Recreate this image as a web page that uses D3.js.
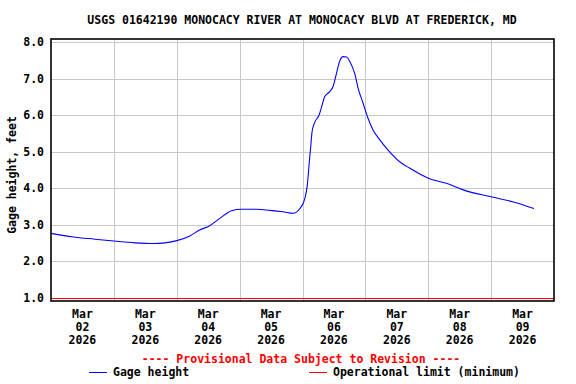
<!DOCTYPE html>
<html>
<head>
<meta charset="utf-8">
<script src="https://cdn.jsdelivr.net/npm/d3@7"></script>
<style>
  body { margin: 0; background: #fff; }
  svg { display: block; }
  text { font-family: "DejaVu Sans Mono", "Liberation Mono", monospace; font-weight: bold; font-size: 11.5px; }
</style>
</head>
<body>
<div id="chart"></div>
<script>
// gage readings
var times = [
  "2026-03-02T00:00", "2026-03-02T08:30", "2026-03-02T16:45", "2026-03-03T00:00",
  "2026-03-03T08:00", "2026-03-03T15:00", "2026-03-03T19:30", "2026-03-04T00:00",
  "2026-03-04T05:00", "2026-03-04T08:45", "2026-03-04T12:35", "2026-03-04T16:25",
  "2026-03-04T20:55", "2026-03-05T00:40", "2026-03-05T06:25", "2026-03-05T11:30",
  "2026-03-05T16:35", "2026-03-05T20:25", "2026-03-05T23:00", "2026-03-06T00:55",
  "2026-03-06T01:50", "2026-03-06T02:30", "2026-03-06T03:05", "2026-03-06T03:40",
  "2026-03-06T04:40", "2026-03-06T06:20", "2026-03-06T07:20", "2026-03-06T08:30",
  "2026-03-06T10:25", "2026-03-06T11:40", "2026-03-06T13:00", "2026-03-06T14:10",
  "2026-03-06T15:30", "2026-03-06T16:50", "2026-03-06T18:00", "2026-03-06T20:00",
  "2026-03-06T21:10", "2026-03-06T23:05", "2026-03-07T01:00", "2026-03-07T02:55",
  "2026-03-07T05:30", "2026-03-07T08:40", "2026-03-07T13:05", "2026-03-07T17:00",
  "2026-03-08T00:00", "2026-03-08T06:55", "2026-03-08T13:20", "2026-03-09T00:00",
  "2026-03-09T08:30", "2026-03-09T16:20"
];
var gageHeight = [
  2.76, 2.66, 2.60, 2.55,
  2.50, 2.48, 2.50, 2.56,
  2.69, 2.85, 2.97, 3.17,
  3.38, 3.42, 3.42, 3.39,
  3.35, 3.31, 3.44, 3.72,
  4.08, 4.63, 5.09, 5.55,
  5.80, 6.00, 6.23, 6.51,
  6.64, 6.78, 7.15, 7.47,
  7.60, 7.59, 7.47, 7.12,
  6.75, 6.33, 5.91, 5.59,
  5.32, 5.04, 4.72, 4.54,
  4.27, 4.13, 3.95, 3.76,
  3.62, 3.44
];
var operationalLimit = 1.0;
var yTicks = [1, 2, 3, 4, 5, 6, 7, 8];
var dayTicks = ["2026-03-02", "2026-03-03", "2026-03-04", "2026-03-05", "2026-03-06", "2026-03-07", "2026-03-08", "2026-03-09"];
var title = "USGS 01642190 MONOCACY RIVER AT MONOCACY BLVD AT FREDERICK, MD";

var W = 576, H = 384;
var pLeft = 51, pRight = 554, pTop = 39, pBottom = 301;

var parse = d3.timeParse("%Y-%m-%dT%H:%M");
var parseDay = d3.timeParse("%Y-%m-%d");
var data = times.map(function(t, i) { return { t: parse(t), v: gageHeight[i] }; });

var x = d3.scaleTime()
    .domain([parseDay("2026-03-02"), parseDay("2026-03-10")])
    .range([pLeft, pRight]);
var y = d3.scaleLinear()
    .domain([0.907, 8.082])
    .range([pBottom, pTop]);

var svg = d3.select("#chart").append("svg")
    .attr("width", W)
    .attr("height", H);

// title
svg.append("text")
    .attr("x", 302).attr("y", 24)
    .attr("text-anchor", "middle")
    .text(title);

// grid
svg.append("g").selectAll("line")
    .data(yTicks.slice(1))
    .enter().append("line")
    .attr("x1", pLeft).attr("x2", pRight)
    .attr("y1", function(d) { return Math.round(y(d)) + 0.5; })
    .attr("y2", function(d) { return Math.round(y(d)) + 0.5; })
    .attr("stroke", "#c8c8c8");

svg.append("g").selectAll("line")
    .data(dayTicks.slice(1))
    .enter().append("line")
    .attr("x1", function(d) { return Math.round(x(parseDay(d))) + 0.5; })
    .attr("x2", function(d) { return Math.round(x(parseDay(d))) + 0.5; })
    .attr("y1", pTop).attr("y2", pBottom)
    .attr("stroke", "#c8c8c8");

// operational limit
svg.append("line")
    .attr("x1", pLeft).attr("x2", pRight)
    .attr("y1", Math.round(y(operationalLimit)) + 0.5)
    .attr("y2", Math.round(y(operationalLimit)) + 0.5)
    .attr("stroke", "#ff0000");

// gage height line
svg.append("path")
    .datum(data)
    .attr("fill", "none")
    .attr("stroke", "#0000ff")
    .attr("stroke-width", 1.1)
    .attr("d", d3.line()
        .curve(d3.curveMonotoneX)
        .x(function(d) { return x(d.t); })
        .y(function(d) { return y(d.v); }));

// frame
svg.append("rect")
    .attr("x", pLeft).attr("y", pTop)
    .attr("width", pRight - pLeft).attr("height", pBottom - pTop)
    .attr("fill", "none")
    .attr("stroke", "#000")
    .attr("stroke-width", 1.6);

// y tick labels
svg.append("g").selectAll("text")
    .data(yTicks)
    .enter().append("text")
    .attr("x", 44)
    .attr("y", function(d) { return y(d); })
    .attr("dy", "0.36em")
    .attr("text-anchor", "end")
    .text(function(d) { return d3.format(".1f")(d); });

// y axis title
svg.append("text")
    .attr("transform", "translate(16,175) rotate(-90)")
    .attr("text-anchor", "middle")
    .text("Gage height, feet");

// x tick labels, centred on noon
var fmtMon = d3.timeFormat("%b"), fmtDay = d3.timeFormat("%d"), fmtYr = d3.timeFormat("%Y");
var noon = function(d) { return x(d3.timeHour.offset(parseDay(d), 12)); };
var xl = svg.append("g").selectAll("text")
    .data(dayTicks)
    .enter().append("text")
    .attr("text-anchor", "middle")
    .attr("x", noon)
    .attr("y", 318);
xl.append("tspan").text(function(d) { return fmtMon(parseDay(d)); });
xl.append("tspan").attr("x", noon).attr("dy", 13)
    .text(function(d) { return fmtDay(parseDay(d)); });
xl.append("tspan").attr("x", noon).attr("dy", 13)
    .text(function(d) { return fmtYr(parseDay(d)); });

// provisional note
svg.append("text")
    .attr("x", 301).attr("y", 363)
    .attr("text-anchor", "middle")
    .attr("fill", "#ff0000")
    .style("white-space", "pre")
    .text("---- Provisional Data Subject to Revision ----");

// legend
var legend = [
  { label: "Gage height", color: "#0000ff", x: 89 },
  { label: "Operational limit (minimum)", color: "#ff0000", x: 309 }
];
var lg = svg.append("g").selectAll("g")
    .data(legend)
    .enter().append("g");
lg.append("line")
    .attr("x1", function(d) { return d.x; })
    .attr("x2", function(d) { return d.x + 18; })
    .attr("y1", 372.5).attr("y2", 372.5)
    .attr("stroke", function(d) { return d.color; });
lg.append("text")
    .attr("x", function(d) { return d.x + 24; })
    .attr("y", 376)
    .text(function(d) { return d.label; });
</script>
</body>
</html>
